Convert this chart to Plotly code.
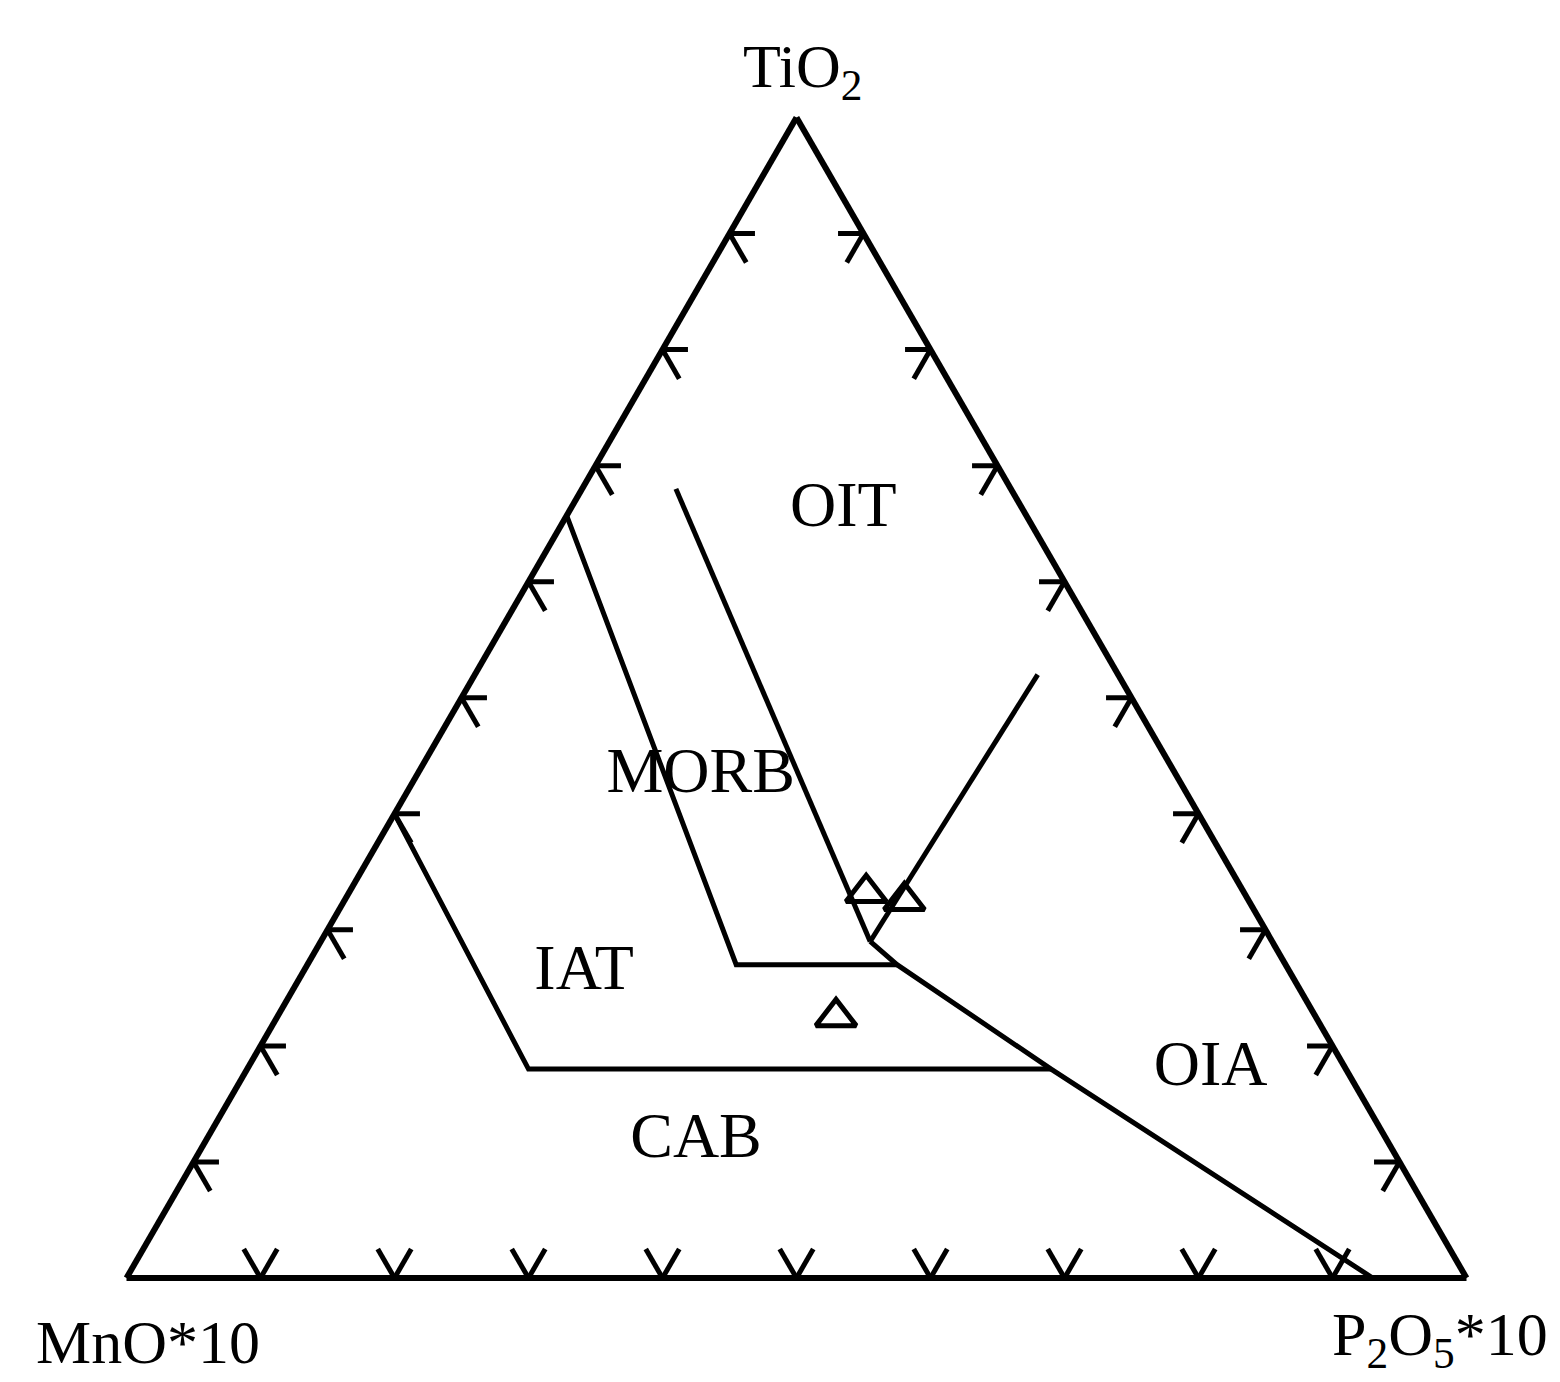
import plotly.graph_objects as go

# Ternary components: a = TiO2 (top), b = MnO*10 (bottom left), c = P2O5*10 (bottom right), in %
# Field boundaries (Mullen-type MnO-TiO2-P2O5 discrimination diagram)
cab_iat_ti = [40, 18, 18]
cab_iat_mn = [60, 61, 22]
cab_iat_p = [0, 21, 60]

iat_morb_ti = [65.7, 27, 27]
iat_morb_mn = [34.3, 41, 29]
iat_morb_p = [0, 32, 44]

morb_oit_ti = [68, 29]
morb_oit_mn = [25, 30]
morb_oit_p = [7, 41]

oit_oia_ti = [52, 29]
oit_oia_mn = [6, 30]
oit_oia_p = [42, 41]

oia_cab_ti = [29, 27, 18, 0]
oia_cab_mn = [30, 29, 22, 7]
oia_cab_p = [41, 44, 60, 93]

# Sample compositions
sample_ti = [33.2, 32.5, 22.5]
sample_mn = [28.2, 25.7, 35.8]
sample_p = [38.6, 41.8, 41.7]

# Field names and their label positions
field_names = ["OIT", "MORB", "IAT", "CAB", "OIA"]
field_ti = [66.2, 43.3, 26.3, 11.8, 18.0]
field_mn = [13.4, 35.5, 52.7, 51.6, 10.1]
field_p = [20.4, 21.2, 21.0, 36.6, 71.9]

# Edge graduations every 10 %
tick_vals = [10, 20, 30, 40, 50, 60, 70, 80, 90]

SERIF = "Liberation Serif"
LINE_W = 5

fig = go.Figure()

# Chevron-style graduation marks along the three edges
dh, dd = 1.9, 2.5
ta, tb, tc = [], [], []


def seg(p0, p1):
    for q in (p0, p1):
        ta.append(q[0]); tb.append(q[1]); tc.append(q[2])
    ta.append(None); tb.append(None); tc.append(None)


for v in tick_vals:
    # left edge (TiO2 - MnO)
    seg((v, 100 - v, 0), (v, 100 - v - dh, dh))
    seg((v, 100 - v, 0), (v - dd, 100 - v, dd))
    # right edge (TiO2 - P2O5)
    seg((v, 0, 100 - v), (v, dh, 100 - v - dh))
    seg((v, 0, 100 - v), (v - dd, dd, 100 - v))
    # bottom edge (MnO - P2O5)
    seg((0, 100 - v, v), (dd, 100 - v, v - dd))
    seg((0, 100 - v, v), (dd, 100 - v - dd, v))

fig.add_trace(go.Scatterternary(
    a=ta, b=tb, c=tc, mode="lines",
    line=dict(color="black", width=LINE_W),
    hoverinfo="skip", showlegend=False,
))

for a_, b_, c_ in [
    (cab_iat_ti, cab_iat_mn, cab_iat_p),
    (iat_morb_ti, iat_morb_mn, iat_morb_p),
    (morb_oit_ti, morb_oit_mn, morb_oit_p),
    (oit_oia_ti, oit_oia_mn, oit_oia_p),
    (oia_cab_ti, oia_cab_mn, oia_cab_p),
]:
    fig.add_trace(go.Scatterternary(
        a=a_, b=b_, c=c_, mode="lines",
        line=dict(color="black", width=LINE_W),
        showlegend=False,
    ))

fig.add_trace(go.Scatterternary(
    a=sample_ti, b=sample_mn, c=sample_p, mode="markers",
    marker=dict(symbol="triangle-up-open", size=35, color="black",
                line=dict(color="black", width=5)),
    showlegend=False,
))

fig.add_trace(go.Scatterternary(
    a=field_ti, b=field_mn, c=field_p, mode="text",
    text=field_names, textposition="middle center",
    textfont=dict(family=SERIF, size=64, color="black"),
    showlegend=False,
))

W_PX, H_PX = 1560, 1382
tri_w = 1340
tri_h = tri_w * 3 ** 0.5 / 2
left = 796.5 - tri_w / 2
bottom = 1278

axis_style = dict(showticklabels=False, ticks="", showgrid=False,
                  showline=True, linecolor="black", linewidth=6,
                  title=dict(text=""), min=0)


def label(text, x, y, size):
    return dict(x=x / W_PX, y=(H_PX - y) / H_PX, xref="paper", yref="paper",
                xanchor="center", yanchor="middle", text=text, showarrow=False,
                font=dict(family=SERIF, size=size, color="black"))


fig.update_layout(
    width=W_PX, height=H_PX,
    margin=dict(l=0, r=0, t=0, b=0),
    paper_bgcolor="white",
    ternary=dict(
        sum=100,
        bgcolor="white",
        domain=dict(x=[left / W_PX, (left + tri_w) / W_PX],
                    y=[(H_PX - bottom) / H_PX, (H_PX - bottom + tri_h) / H_PX]),
        aaxis=axis_style, baxis=axis_style, caxis=axis_style,
    ),
    annotations=[
        label("TiO<sub>2</sub>", 803, 70, 62),
        label("MnO*10", 148, 1342, 62),
        label("P<sub>2</sub>O<sub>5</sub>*10", 1440, 1338, 62),
    ],
)

fig.write_html("out.html")
